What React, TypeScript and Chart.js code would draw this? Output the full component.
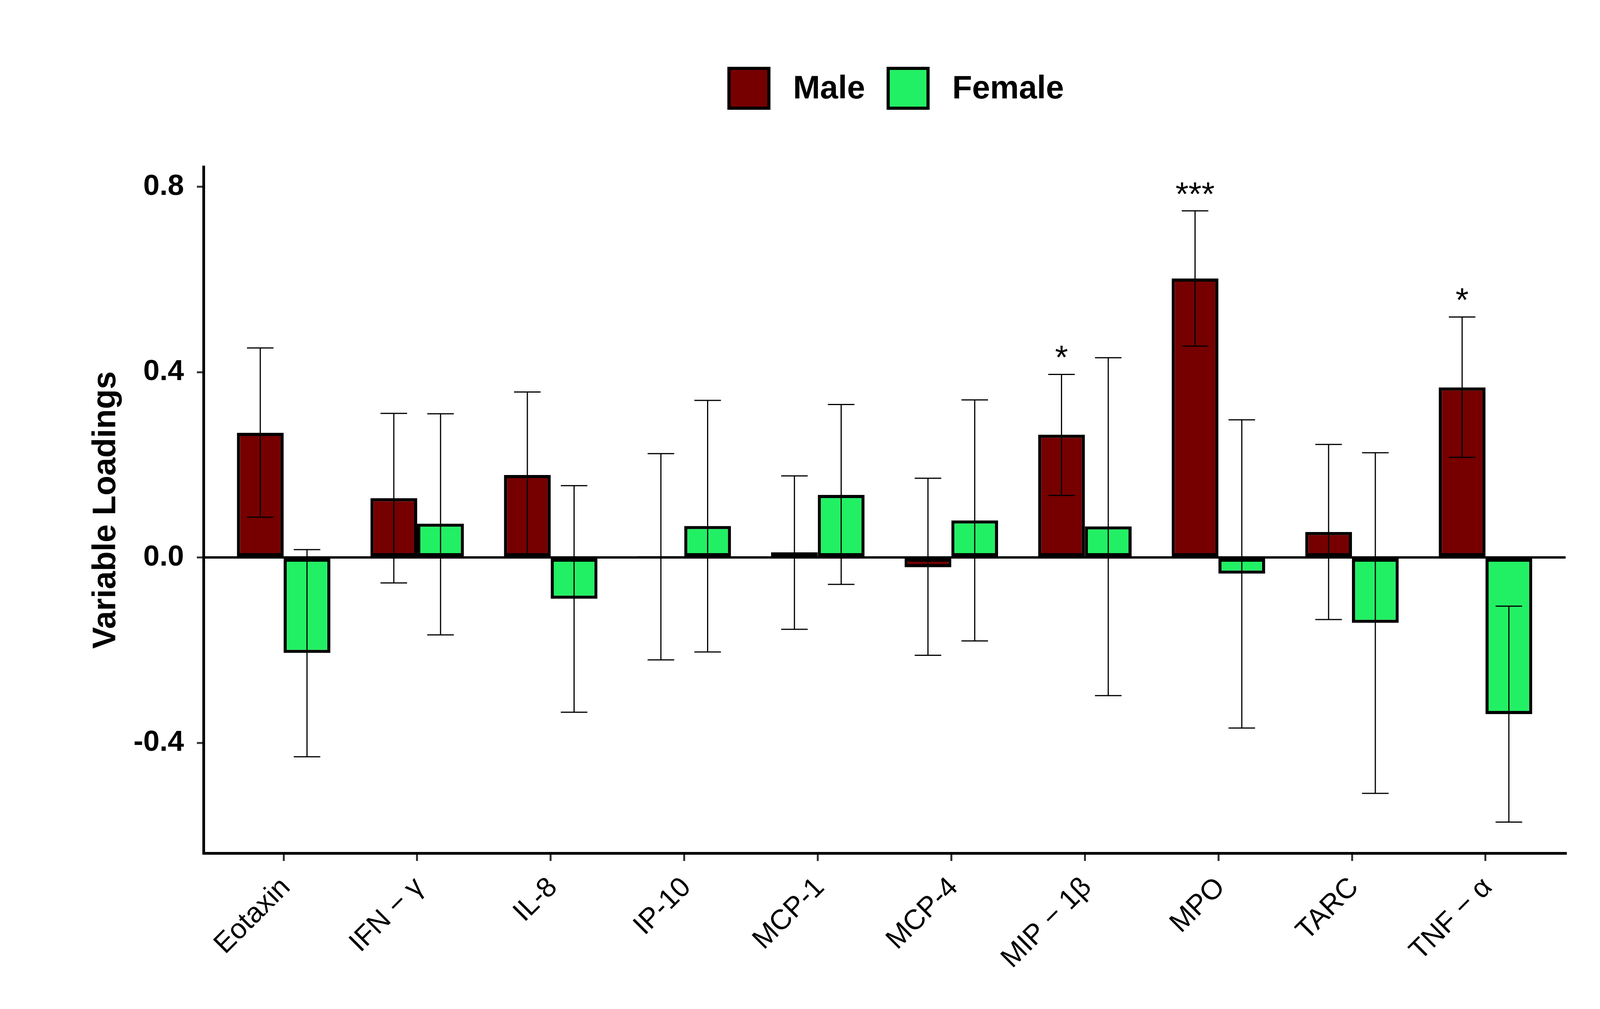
import { useEffect, useRef } from "react";
import { Chart, registerables } from "chart.js";

Chart.register(...registerables);

const categories = ["Eotaxin", "IFN − γ", "IL-8", "IP-10", "MCP-1", "MCP-4", "MIP − 1β", "MPO", "TARC", "TNF − α"];
const seriesNames = ["Male", "Female"];
const seriesColors = ["#760000", "#22F064"];

const maleValues = [0.269, 0.128, 0.178, 0.003, 0.011, -0.021, 0.265, 0.602, 0.055, 0.367];
const maleLower = [0.087, -0.055, 0.001, -0.221, -0.155, -0.211, 0.134, 0.456, -0.134, 0.216];
const maleUpper = [0.452, 0.311, 0.357, 0.224, 0.176, 0.171, 0.395, 0.748, 0.244, 0.519];

const femaleValues = [-0.206, 0.073, -0.089, 0.068, 0.135, 0.08, 0.067, -0.035, -0.141, -0.338];
const femaleLower = [-0.43, -0.167, -0.334, -0.204, -0.058, -0.18, -0.298, -0.368, -0.509, -0.571];
const femaleUpper = [0.017, 0.31, 0.155, 0.339, 0.33, 0.34, 0.431, 0.297, 0.226, -0.105];

const maleStars = ["", "", "", "", "", "", "*", "***", "", "*"];
const yTicks = [-0.4, 0, 0.4, 0.8];

const FONT = "'Liberation Sans', Arial, Helvetica, sans-serif";

// whiskers + significance stars
const errorBars = {
  id: "errorBars",
  afterDatasetsDraw(chart: any) {
    const { ctx, scales } = chart;
    const y = scales.y;
    const ranges = [
      [maleLower, maleUpper],
      [femaleLower, femaleUpper],
    ];
    ctx.save();
    ctx.strokeStyle = "#000";
    ctx.lineWidth = 3;
    ranges.forEach(([lo, hi], d) => {
      const meta = chart.getDatasetMeta(d);
      meta.data.forEach((bar: any, i: number) => {
        const x = bar.x;
        const yl = y.getPixelForValue(lo[i]);
        const yh = y.getPixelForValue(hi[i]);
        ctx.beginPath();
        ctx.moveTo(x, yl);
        ctx.lineTo(x, yh);
        ctx.moveTo(x - 34, yl);
        ctx.lineTo(x + 34, yl);
        ctx.moveTo(x - 34, yh);
        ctx.lineTo(x + 34, yh);
        ctx.stroke();
      });
    });
    ctx.fillStyle = "#000";
    ctx.font = `86px ${FONT}`;
    ctx.textAlign = "center";
    ctx.textBaseline = "alphabetic";
    chart.getDatasetMeta(0).data.forEach((bar: any, i: number) => {
      if (!maleStars[i]) return;
      ctx.fillText(maleStars[i], bar.x, y.getPixelForValue(maleUpper[i]) - 14);
    });
    ctx.restore();
  },
};

// ggplot-style legend above the panel
const topLegend = {
  id: "topLegend",
  afterDraw(chart: any) {
    const { ctx } = chart;
    ctx.save();
    ctx.font = `bold 83px ${FONT}`;
    const box = 110;
    const widths = seriesNames.map((n) => ctx.measureText(n).width);
    const total = seriesNames.length * (box + 58) + widths.reduce((a, b) => a + b, 0) + 55;
    let x = 2293 - total / 2;
    const top = 171;
    seriesNames.forEach((name, i) => {
      ctx.fillStyle = seriesColors[i];
      ctx.fillRect(x, top, box, box);
      ctx.lineWidth = 8;
      ctx.strokeStyle = "#000";
      ctx.strokeRect(x + 4, top + 4, box - 8, box - 8);
      x += box + 58;
      ctx.fillStyle = "#000";
      ctx.textBaseline = "middle";
      ctx.textAlign = "left";
      ctx.fillText(name, x, top + box / 2 + 3);
      x += widths[i] + 55;
    });
    ctx.restore();
  },
};

export default function App() {
  const canvasRef = useRef<HTMLCanvasElement | null>(null);

  useEffect(() => {
    document.body.style.margin = "0";
    if (!canvasRef.current) return;
    Chart.defaults.color = "#000";
    Chart.defaults.font.family = FONT;

    const chart = new Chart(canvasRef.current, {
      type: "bar",
      data: {
        datasets: [
          {
            label: seriesNames[0],
            data: maleValues.map((v, i) => ({ x: i, y: v })),
            backgroundColor: seriesColors[0],
            borderColor: "#000",
            borderWidth: 8,
            borderSkipped: false,
          },
          {
            label: seriesNames[1],
            data: femaleValues.map((v, i) => ({ x: i, y: v })),
            backgroundColor: seriesColors[1],
            borderColor: "#000",
            borderWidth: 8,
            borderSkipped: false,
          },
        ],
      },
      options: {
        animation: false,
        responsive: true,
        maintainAspectRatio: false,
        devicePixelRatio: 1,
        layout: { padding: { left: 222, right: 267, top: 427, bottom: 0 } },
        datasets: { bar: { barPercentage: 1, categoryPercentage: 0.7 } },
        plugins: { legend: { display: false }, tooltip: { enabled: false } },
        scales: {
          x: {
            type: "linear",
            offset: false,
            min: -0.6,
            max: 9.6,
            afterBuildTicks: (s: any) => {
              s.ticks = categories.map((_, i) => ({ value: i }));
            },
            afterFit: (s: any) => {
              s.height = 399;
            },
            ticks: {
              autoSkip: false,
              maxRotation: 45,
              minRotation: 45,
              padding: 26,
              labelOffset: 6,
              font: { size: 72 },
              color: "#000",
              callback: (v: any) => categories[v],
            },
            grid: {
              offset: false,
              drawOnChartArea: false,
              tickLength: 20,
              tickColor: "#333",
              tickWidth: 5,
              lineWidth: 5,
            },
            border: { display: true, color: "#000", width: 7 },
          },
          y: {
            min: -0.638,
            max: 0.843,
            afterBuildTicks: (s: any) => {
              s.ticks = yTicks.map((v) => ({ value: v }));
            },
            afterFit: (s: any) => {
              s.width = 299;
            },
            ticks: {
              padding: 33,
              font: { size: 75, weight: "bold" },
              color: "#000",
              callback: (v: any) => Number(v).toFixed(1),
            },
            grid: {
              color: (c: any) => (c.tick && c.tick.value === 0 ? "#000" : "rgba(0,0,0,0)"),
              lineWidth: 6,
              tickLength: 17,
              tickColor: "#333",
              tickWidth: 5,
            },
            border: { display: true, color: "#000", width: 7 },
            title: {
              display: true,
              text: "Variable Loadings",
              font: { size: 83, weight: "bold" },
              color: "#000",
              padding: 0,
            },
          },
        },
      },
      plugins: [errorBars, topLegend],
    } as any);

    return () => chart.destroy();
  }, []);

  return (
    <div style={{ width: 4275, height: 2583, position: "relative", background: "#fff" }}>
      <canvas ref={canvasRef} />
    </div>
  );
}
